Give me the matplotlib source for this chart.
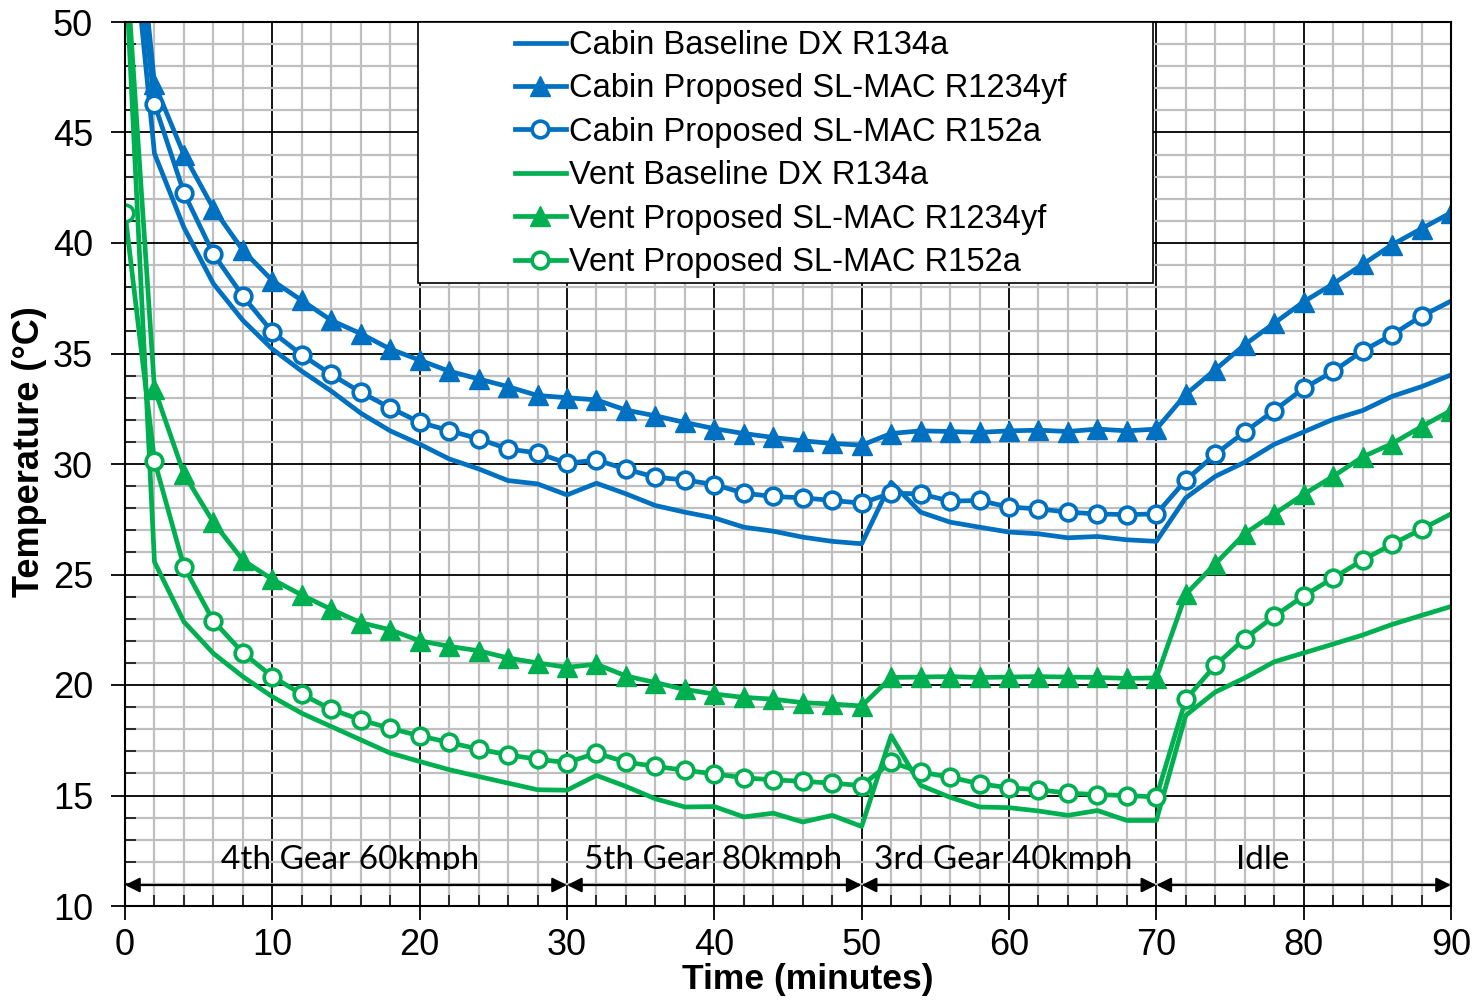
import matplotlib
matplotlib.use('Agg')
import matplotlib.pyplot as plt
from matplotlib.ticker import MultipleLocator
from matplotlib.patches import Rectangle
from matplotlib.transforms import Bbox, TransformedBbox

plt.rcParams['font.family'] = ['Liberation Sans', 'DejaVu Sans']

# time axis, one reading every 2 minutes
time_min = list(range(0, 92, 2))

cabin_baseline = [57.5, 44.05, 40.7, 38.16, 36.5, 35.2, 34.2, 33.3, 32.3, 31.5, 30.9,
                  30.23, 29.78, 29.25, 29.1, 28.6,
                  29.13, 28.65, 28.12, 27.82, 27.56, 27.14, 26.96, 26.69, 26.5, 26.39,
                  29.17, 27.82, 27.37, 27.14, 26.92, 26.84, 26.66, 26.72, 26.57, 26.5,
                  28.47, 29.44, 30.08, 30.89, 31.45, 32.02, 32.42, 33.06, 33.5, 34.03]
cabin_r1234yf = [60.5, 47.2, 44.0, 41.56, 39.67, 38.3, 37.4, 36.5, 35.9, 35.2, 34.7,
                 34.2, 33.85, 33.5, 33.1, 33.0,
                 32.9, 32.44, 32.18, 31.88, 31.6, 31.38, 31.2, 31.05, 30.93, 30.85,
                 31.38, 31.5, 31.47, 31.43, 31.5, 31.53, 31.47, 31.58, 31.5, 31.58,
                 33.15, 34.27, 35.4, 36.37, 37.34, 38.15, 39.03, 39.92, 40.65, 41.37]
cabin_r152a = [58.5, 46.3, 42.27, 39.5, 37.6, 35.97, 34.94, 34.05, 33.25, 32.54, 31.89,
               31.51, 31.14, 30.68, 30.5, 30.03,
               30.18, 29.77, 29.4, 29.28, 29.07, 28.68, 28.53, 28.47, 28.35, 28.23,
               28.68, 28.65, 28.32, 28.35, 28.05, 27.97, 27.82, 27.74, 27.71, 27.74,
               29.27, 30.44, 31.45, 32.42, 33.42, 34.19, 35.11, 35.85, 36.69, 37.37]
vent_baseline = [53.0, 25.57, 22.86, 21.43, 20.38, 19.47, 18.72, 18.12, 17.52, 16.92, 16.54,
                 16.17, 15.86, 15.56, 15.26, 15.24,
                 15.91, 15.41, 14.85, 14.48, 14.5, 14.03, 14.2, 13.8, 14.1, 13.6,
                 17.71, 15.46, 14.92, 14.48, 14.45, 14.3, 14.1, 14.32, 13.87, 13.87,
                 18.63, 19.68, 20.32, 21.05, 21.45, 21.85, 22.26, 22.74, 23.15, 23.55]
vent_r1234yf = [53.5, 33.4, 29.55, 27.36, 25.65, 24.78, 24.07, 23.42, 22.82, 22.5, 22.0,
                21.75, 21.55, 21.22, 21.0, 20.8,
                20.94, 20.41, 20.11, 19.8, 19.59, 19.44, 19.36, 19.2, 19.14, 19.05,
                20.34, 20.36, 20.38, 20.34, 20.36, 20.38, 20.36, 20.34, 20.3, 20.32,
                24.11, 25.48, 26.85, 27.74, 28.63, 29.44, 30.32, 30.92, 31.69, 32.42]
vent_r152a = [41.35, 30.15, 25.35, 22.9, 21.46, 20.38, 19.58, 18.9, 18.42, 18.04, 17.7,
              17.4, 17.1, 16.84, 16.64, 16.49,
              16.92, 16.51, 16.32, 16.14, 15.98, 15.8, 15.71, 15.64, 15.56, 15.45,
              16.51, 16.06, 15.83, 15.53, 15.35, 15.26, 15.11, 15.04, 15.0, 14.93,
              19.35, 20.89, 22.1, 23.11, 24.03, 24.84, 25.65, 26.37, 27.05, 27.74]

phase_bounds = [0, 30, 50, 70, 90]
phase_labels = ['4th Gear 60kmph', '5th Gear 80kmph', '3rd Gear 40kmph', 'Idle']
phase_label_x = [15.3, 39.9, 59.6, 77.2]

BLUE = '#0070C0'
GREEN = '#00B050'

fig = plt.figure(figsize=(14.76, 10), dpi=100)
ax = fig.add_axes([125 / 1476, 94 / 1000, 1326 / 1476, 884 / 1000])

lw = 3.4
tri = dict(marker='^', markersize=14.5)
circ = dict(marker='o', markersize=12, markerfacecolor='white', markeredgewidth=2.6,
            markevery=slice(0, -1))

ax.plot(time_min, cabin_baseline, color=BLUE, lw=lw, label='Cabin Baseline DX R134a', zorder=3)
ax.plot(time_min, cabin_r1234yf, color=BLUE, lw=lw, label='Cabin Proposed SL-MAC R1234yf', zorder=3, **tri)
ax.plot(time_min, cabin_r152a, color=BLUE, lw=lw, label='Cabin Proposed SL-MAC R152a', zorder=3, **circ)
ax.plot(time_min, vent_baseline, color=GREEN, lw=lw, label='Vent Baseline DX R134a', zorder=3)
ax.plot(time_min, vent_r1234yf, color=GREEN, lw=lw, label='Vent Proposed SL-MAC R1234yf', zorder=3, **tri)
ax.plot(time_min, vent_r152a, color=GREEN, lw=lw, label='Vent Proposed SL-MAC R152a', zorder=3, **circ)

ax.set_xlim(0, 90)
ax.set_ylim(10, 50)
ax.xaxis.set_major_locator(MultipleLocator(10))
ax.xaxis.set_minor_locator(MultipleLocator(2))
ax.yaxis.set_major_locator(MultipleLocator(5))
ax.yaxis.set_minor_locator(MultipleLocator(1))

ax.set_axisbelow(True)
ax.grid(which='major', color='black', lw=1.3)
ax.grid(which='minor', color='#bfbfbf', lw=1.6)
for s in ax.spines.values():
    s.set_linewidth(1.5)
    s.set_zorder(4)

ax.tick_params(which='major', direction='out', length=10, width=1.3, labelsize=26)
ax.tick_params(axis='x', which='major', pad=6)
ax.tick_params(axis='y', which='major', pad=13)
ax.tick_params(which='minor', direction='in', length=8, width=1.1)

# phase arrows and labels along the bottom
clip = TransformedBbox(Bbox([[0, 11.62], [90, 50]]), ax.transData)
for i, name in enumerate(phase_labels):
    ax.annotate('', xy=(phase_bounds[i + 1], 10.95), xytext=(phase_bounds[i], 10.95),
                arrowprops=dict(arrowstyle='<|-|>', color='black', lw=1.6,
                                shrinkA=0, shrinkB=0, mutation_scale=22), zorder=5)
    txt = ax.text(phase_label_x[i], 11.68, name, ha='center', va='baseline',
                  fontsize=24, family='Lato', zorder=5)
    txt.set_clip_box(clip)
    txt.set_clip_on(True)

ax.set_xlabel('Time (minutes)', fontsize=25.5, fontweight='bold', va='center')
ax.xaxis.set_label_coords(0.515, -73 / 884)
ax.set_ylabel('Temperature (°C)', fontsize=26, fontweight='bold', va='center')
ax.yaxis.set_label_coords(-95 / 1326, 454 / 884)

# legend box with empty left part, like the original
ax.add_patch(Rectangle((293 / 1326, 623 / 884), 735 / 1326, 261 / 884, transform=ax.transAxes,
                       facecolor='white', edgecolor='black', lw=1.2, zorder=6))
leg = ax.legend(loc='upper left', bbox_to_anchor=(390 / 1326, 1 - 8 / 884), frameon=False,
                fontsize=23.5, handlelength=1.55, handletextpad=0.1, borderpad=0,
                borderaxespad=0, labelspacing=0.38)
leg.set_zorder(7)

fig.savefig('out.png', dpi=100)
